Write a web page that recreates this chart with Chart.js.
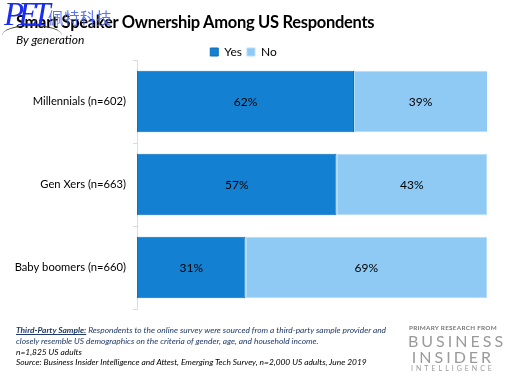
<!DOCTYPE html>
<html>
<head>
<meta charset="utf-8">
<script src="https://cdn.jsdelivr.net/npm/chart.js@4.4.1/dist/chart.umd.min.js"></script>
<style>
  html, body { margin: 0; padding: 0; background: #fff; }
  #wrap { position: relative; width: 514px; height: 386px; overflow: hidden; font-family: Lato, "Open Sans", sans-serif; }
  #wrap canvas { position: absolute; left: 0; top: 0; }
  .t { position: absolute; white-space: nowrap; }
  #title { left: 16px; top: 12px; font-size: 16.5px; letter-spacing: -0.3px; font-weight: bold; color: #000; }
  #sub { left: 16px; top: 32px; font-size: 12px; font-style: italic; color: #000; }
  .foot { left: 16px; font-size: 8.4px; font-style: italic; }
  #wm1 { left: 4px; top: -4px; font-family: "Liberation Serif", serif; font-style: italic; font-size: 33px; color: #1a2cf0; letter-spacing: -6px; }
  #wm2 { left: 48px; top: 6px; font-family: "Noto Sans CJK SC", sans-serif; font-size: 15.5px; letter-spacing: 0.5px; color: #4a66f0; opacity: 0.9; }
  #swoosh { position: absolute; left: 2px; top: 25px; width: 60px; height: 20px; border-top: 1.5px solid #333; border-radius: 50% 50% 0 0; }
  .bi { color: #9a9a9a; text-align: center; width: 90px; left: 408px; }
</style>
</head>
<body>
<div id="wrap">
  <canvas id="c" width="514" height="386"></canvas>
  <div class="t" id="title">Smart Speaker Ownership Among US Respondents</div>
  <div class="t" id="sub">By generation</div>
  <div id="swoosh"></div>
  <div class="t" id="wm1">PET</div>
  <div class="t" id="wm2">佩特科技</div>
  <div class="t foot" style="top:325px;color:#1f3a68;"><b><u>Third-Party Sample:</u></b> Respondents to the online survey were sourced from a third-party sample provider and</div>
  <div class="t foot" style="top:336px;color:#1f3a68;">closely resemble US demographics on the criteria of gender, age, and household income.</div>
  <div class="t foot" style="top:347px;color:#000;">n=1,825 US adults</div>
  <div class="t foot" style="top:357px;color:#000;">Source: Business Insider Intelligence and Attest, Emerging Tech Survey, n=2,000 US adults, June 2019</div>
  <div class="t bi" style="top:324px;font-size:6.3px;font-weight:bold;letter-spacing:0.3px;color:#777;">PRIMARY RESEARCH FROM</div>
  <div class="t bi" style="top:331px;font-size:16px;letter-spacing:3px;">BUSINESS</div>
  <div class="t bi" style="top:347px;font-size:16px;letter-spacing:3px;">INSIDER</div>
  <div class="t bi" style="top:364px;font-size:7px;letter-spacing:3px;">INTELLIGENCE</div>
</div>
<script>
const categories = ["Millennials (n=602)", "Gen Xers (n=663)", "Baby boomers (n=660)"];
const yesValues = [62, 57, 31];
const noValues = [39, 43, 69];
const seriesNames = ["Yes", "No"];

const legendTighten = {
  id: 'legendTighten',
  afterInit(chart) {
    const lg = chart.legend;
    if (!lg) return;
    const orig = lg.fit;
    lg.fit = function () { orig.call(this); this.height = Math.max(0, this.height - 8); };
  }
};

const labelPlugin = {
  id: 'barLabels',
  afterDatasetsDraw(chart) {
    const ctx = chart.ctx;
    ctx.save();
    ctx.font = '12px Lato, "Open Sans", sans-serif';
    ctx.fillStyle = '#000';
    ctx.textAlign = 'center';
    ctx.textBaseline = 'middle';
    const area = chart.chartArea;
    chart.data.datasets.forEach((ds, i) => {
      const meta = chart.getDatasetMeta(i);
      meta.data.forEach((bar, j) => {
        const left = Math.max(Math.min(bar.x, bar.base), area.left);
        const right = Math.min(Math.max(bar.x, bar.base), area.right);
        ctx.fillText(ds.data[j] + '%', (left + right) / 2, bar.y + 1);
      });
    });
    ctx.restore();
  }
};

new Chart(document.getElementById('c'), {
  type: 'bar',
  data: {
    labels: categories,
    datasets: [
      { label: seriesNames[0], data: yesValues, backgroundColor: '#1380d1', borderColor: '#0d6fbf', borderWidth: 1, borderSkipped: false },
      { label: seriesNames[1], data: noValues, backgroundColor: '#8ecaf4', borderColor: '#b5dcf8', borderWidth: 1, borderSkipped: false }
    ]
  },
  options: {
    indexAxis: 'y',
    responsive: false,
    animation: false,
    layout: { padding: { top: 41, right: 27, bottom: 77, left: 0 } },
    datasets: { bar: { categoryPercentage: 1, barPercentage: 0.74 } },
    scales: {
      x: { stacked: true, display: false, min: 0, max: 100 },
      y: {
        stacked: true,
        afterFit(s) { s.width = 137; },
        border: { display: true, color: '#dcdcdc', width: 1 },
        grid: { drawOnChartArea: false, drawTicks: true, tickLength: 4, color: '#dcdcdc', offset: true },
        ticks: { color: '#000', font: { family: 'Lato, "Open Sans", sans-serif', size: 11.2 }, padding: 7 }
      }
    },
    plugins: {
      legend: {
        position: 'top',
        labels: { boxWidth: 8, boxHeight: 8, color: '#000', font: { family: 'Lato, "Open Sans", sans-serif', size: 12 }, padding: 5 }
      },
      tooltip: { enabled: false }
    }
  },
  plugins: [legendTighten, labelPlugin]
});
</script>
</body>
</html>
